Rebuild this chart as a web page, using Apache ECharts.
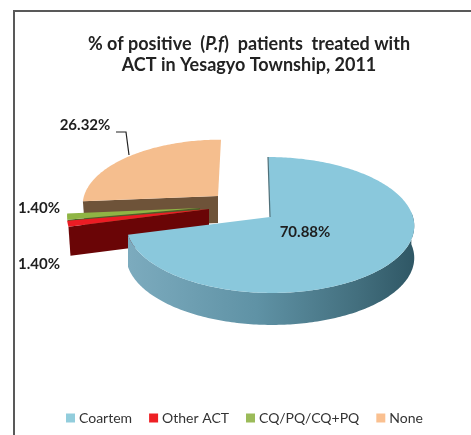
<!DOCTYPE html>
<html>
<head>
<meta charset="utf-8">
<style>html,body{margin:0;padding:0;background:#fff}#c{width:471px;height:435px}</style>
<script src="https://cdn.jsdelivr.net/npm/echarts@6/dist/echarts.min.js"></script>
</head>
<body>
<div id="c"></div>
<script>
const categories = ['Coartem', 'Other ACT', 'CQ/PQ/CQ+PQ', 'None'];
const values = [70.88, 1.40, 1.40, 26.32];
const legendColors = ['#92cddc', '#ee2024', '#9bbb59', '#fac090'];
const topColors = ['#8ac8dc', '#ec1c24', '#8fb544', '#f5be8e'];
const wallColors = ['#5a8a9c', '#6a0506', '#4d5e28', '#6e5339'];
const total = values.reduce((a, b) => a + b, 0);

// projection of each exploded slice: apex, radii, perspective, skew, thickness
const persp = 0.1176;
const geometry = [
  { x: 270, y: 217, b: 143, a: 67, skew: 2, h: 32, z: 4, label: [305, 232] },
  { x: 209, y: 209, b: 141, a: 67, skew: 0, h: 29, z: 3, label: [39, 264] },
  { x: 200, y: 208, b: 132, a: 67, skew: 0, h: 6, z: 2, label: [39, 208] },
  { x: 218, y: 196, b: 134, a: 63, skew: -3, h: 27, z: 1, label: [85, 125] }
];

function project(g, deg) {
  const t = deg * Math.PI / 180, u = Math.sin(t), v = -Math.cos(t), s = 1 / (1 - persp * v);
  return [g.x + g.b * u * s + g.skew * v, g.y + g.a * v * s];
}
function arc(g, from, to, dy) {
  const pts = [], n = Math.max(2, Math.ceil(Math.abs(to - from)));
  for (let i = 0; i <= n; i++) {
    const p = project(g, from + (to - from) * i / n);
    pts.push([p[0], p[1] + (dy || 0)]);
  }
  return pts;
}
const labelFont = 'bold 15px Lato, sans-serif';

function makeRender(idx) {
  return function (params, api) {
    const g = geometry[idx];
    const val = api.value(0);
    let start = 0;
    for (let i = 0; i < idx; i++) start += values[i] / total * 360;
    const end = start + val / total * 360;
    const kids = [];
    const apex = [g.x, g.y];
    if (start > 180) {
      const e = project(g, start);
      kids.push({ type: 'polygon', shape: { points: [apex, e, [e[0] + 2, e[1] + g.h], [apex[0], apex[1] + g.h]] },
        style: { fill: wallColors[idx] } });
    }
    if (idx === 0) {
      const from = 86;
      const topArc = arc(g, from, end, 0);
      const lowArc = arc(g, end, from, g.h);
      kids.push({ type: 'polygon', shape: { points: topArc.concat(lowArc) },
        style: { fill: { type: 'linear', x: 0, y: 0, x2: 1, y2: 0, colorStops: [
          { offset: 0, color: '#7cabbe' }, { offset: 0.45, color: '#5f92a5' },
          { offset: 0.8, color: '#436f7e' }, { offset: 1, color: '#2f5765' }] } } });
    }
    kids.push({ type: 'polygon', shape: { points: [apex].concat(arc(g, start, end, 0)) },
      style: { fill: topColors[idx] } });
    if (idx === 0) {
      kids.push({ type: 'polyline', shape: { points: [project(g, start), apex] },
        style: { stroke: '#4f6f78', lineWidth: 1.2, fill: null } });
    }
    if (idx === 3) {
      kids.push({ type: 'polyline', shape: { points: [[116, 132], [126, 132], [129, 155]] },
        style: { stroke: '#222', lineWidth: 1.2, fill: null } });
    }
    kids.push({ type: 'text', style: { x: g.label[0], y: g.label[1], text: val.toFixed(2) + '%',
      font: labelFont, fill: '#1e1e1e', align: 'center', verticalAlign: 'middle' } });
    return { type: 'group', children: kids };
  };
}

const chart = echarts.init(document.getElementById('c'), null, { renderer: 'canvas' });
chart.setOption({
  animation: false,
  backgroundColor: '#fff',
  title: {
    text: '% of positive  ({i|P.f})  patients  treated with\nACT in Yesagyo Township, 2011',
    left: 244, top: 29, textAlign: 'center',
    textStyle: {
      fontFamily: 'Lato, sans-serif', fontSize: 18, fontWeight: 'bold', color: '#222', lineHeight: 21,
      rich: { i: { fontFamily: 'Lato, sans-serif', fontSize: 18, fontWeight: 'bold', fontStyle: 'italic', color: '#222' } }
    }
  },
  legend: {
    data: categories, left: 61, top: 406, icon: 'rect', itemWidth: 9, itemHeight: 9, itemGap: 17,
    textStyle: { fontFamily: 'Lato, sans-serif', fontSize: 14, color: '#333', padding: [0, 0, 0, -1] }
  },
  graphic: [{ type: 'polyline', shape: { points: [[14, 435], [14, 11], [471, 11]] },
    style: { stroke: '#595959', lineWidth: 2, fill: null } }],
  series: categories.map((name, i) => ({
    type: 'custom', name, coordinateSystem: 'none', z: geometry[i].z,
    itemStyle: { color: legendColors[i] },
    data: [[values[i]]], renderItem: makeRender(i)
  }))
});
</script>
</body>
</html>
